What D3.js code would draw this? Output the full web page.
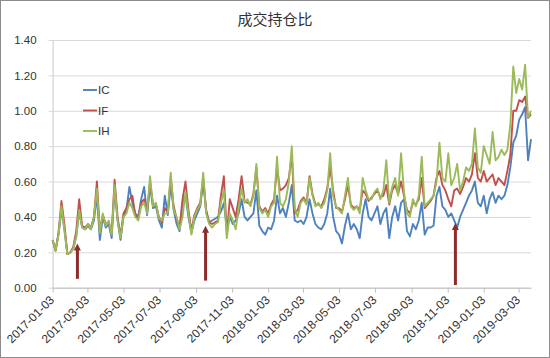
<!DOCTYPE html>
<html><head><meta charset="utf-8">
<script src="https://cdn.jsdelivr.net/npm/d3@7"></script>
<style>body{margin:0;background:#fff}svg{display:block}</style>
</head><body>
<svg id="chart" width="550" height="358"></svg>
<script>
// ---- data ----
const titleText = "成交持仓比";
const startDate = "2017-01-03";   // first sample
const stepDays = 5;               // sampling step of the series below
const endDate = "2019-03-24";     // right end of the date axis
const tickLabels = ["2017-01-03","2017-03-03","2017-05-03","2017-07-03","2017-09-03","2017-11-03",
  "2018-01-03","2018-03-03","2018-05-03","2018-07-03","2018-09-03","2018-11-03","2019-01-03","2019-03-03"];
const yTicks = [0, 0.2, 0.4, 0.6, 0.8, 1.0, 1.2, 1.4];
const seriesNames = ["IC", "IF", "IH"];
const seriesColors = ["#4F81BD", "#C0504D", "#9BBB59"];

const IC = [0.27,0.21,0.30,0.44,0.33,0.19,0.20,0.22,0.29,0.43,0.34,0.33,
  0.35,0.33,0.38,0.52,0.27,0.40,0.34,0.36,0.28,0.56,0.38,0.27,
  0.40,0.44,0.57,0.48,0.42,0.40,0.50,0.57,0.41,0.58,0.45,0.46,
  0.38,0.34,0.52,0.41,0.58,0.44,0.36,0.32,0.48,0.52,0.40,0.31,
  0.38,0.42,0.46,0.60,0.44,0.37,0.38,0.39,0.40,0.43,0.48,0.33,
  0.40,0.36,0.38,0.42,0.50,0.40,0.38,0.40,0.42,0.55,0.35,0.32,
  0.30,0.34,0.33,0.38,0.52,0.42,0.45,0.40,0.48,0.58,0.38,0.37,
  0.38,0.36,0.40,0.50,0.42,0.36,0.34,0.33,0.36,0.42,0.56,0.40,
  0.32,0.30,0.25,0.35,0.42,0.33,0.36,0.33,0.28,0.42,0.50,0.40,
  0.38,0.42,0.46,0.36,0.42,0.45,0.28,0.40,0.46,0.38,0.48,0.50,
  0.32,0.29,0.36,0.33,0.38,0.48,0.30,0.34,0.34,0.35,0.52,0.57,
  0.46,0.44,0.40,0.42,0.38,0.34,0.40,0.44,0.48,0.52,0.55,0.60,
  0.48,0.46,0.52,0.42,0.50,0.54,0.48,0.52,0.50,0.52,0.58,0.68,
  0.82,0.86,0.95,0.98,1.02,0.72,0.84];
const IF = [0.27,0.21,0.31,0.49,0.36,0.19,0.20,0.23,0.32,0.50,0.35,0.34,
  0.36,0.34,0.40,0.60,0.32,0.41,0.36,0.37,0.31,0.61,0.40,0.29,
  0.42,0.45,0.50,0.52,0.41,0.39,0.48,0.50,0.43,0.60,0.47,0.47,
  0.40,0.37,0.45,0.43,0.62,0.46,0.39,0.34,0.50,0.60,0.44,0.32,
  0.41,0.45,0.48,0.62,0.43,0.37,0.36,0.37,0.38,0.52,0.63,0.30,
  0.50,0.45,0.40,0.50,0.63,0.49,0.48,0.47,0.53,0.68,0.46,0.43,
  0.45,0.42,0.47,0.50,0.68,0.55,0.56,0.58,0.62,0.75,0.42,0.44,
  0.49,0.51,0.48,0.63,0.53,0.47,0.47,0.46,0.50,0.56,0.68,0.55,
  0.45,0.45,0.43,0.50,0.58,0.47,0.45,0.46,0.44,0.55,0.53,0.49,
  0.51,0.53,0.55,0.51,0.52,0.58,0.47,0.55,0.58,0.53,0.60,0.52,
  0.44,0.42,0.48,0.47,0.50,0.62,0.45,0.47,0.49,0.52,0.62,0.66,
  0.58,0.55,0.50,0.46,0.55,0.56,0.53,0.57,0.62,0.60,0.64,0.76,
  0.62,0.60,0.66,0.60,0.62,0.64,0.58,0.62,0.60,0.58,0.66,0.75,
  1.00,1.00,1.06,1.05,1.08,0.96,0.98];
const IH = [0.27,0.21,0.30,0.46,0.33,0.19,0.20,0.22,0.29,0.44,0.34,0.33,
  0.36,0.33,0.40,0.56,0.31,0.42,0.35,0.38,0.30,0.58,0.38,0.28,
  0.40,0.42,0.48,0.45,0.40,0.38,0.46,0.48,0.42,0.63,0.46,0.48,
  0.39,0.38,0.42,0.42,0.65,0.44,0.40,0.33,0.40,0.54,0.42,0.30,
  0.40,0.44,0.47,0.65,0.42,0.36,0.34,0.36,0.37,0.48,0.55,0.28,
  0.42,0.38,0.33,0.45,0.56,0.48,0.50,0.46,0.52,0.70,0.45,0.42,
  0.44,0.40,0.46,0.48,0.74,0.48,0.46,0.50,0.60,0.80,0.45,0.40,
  0.48,0.50,0.47,0.62,0.52,0.46,0.48,0.45,0.48,0.55,0.76,0.52,
  0.46,0.44,0.42,0.52,0.62,0.46,0.44,0.46,0.42,0.62,0.55,0.50,
  0.50,0.54,0.56,0.50,0.55,0.72,0.48,0.57,0.62,0.52,0.76,0.54,
  0.42,0.40,0.50,0.46,0.52,0.74,0.46,0.48,0.50,0.52,0.60,0.82,
  0.62,0.60,0.76,0.58,0.62,0.70,0.55,0.60,0.68,0.66,0.70,0.90,
  0.68,0.65,0.80,0.75,0.70,0.88,0.72,0.74,0.78,0.75,0.78,0.92,
  1.25,1.10,1.18,1.12,1.26,0.96,1.00];

// annotation arrows (date, tip value, base value)
const arrowDates = ["2017-02-14", "2017-09-19", "2018-11-16"];
const arrowTips  = [0.25, 0.35, 0.365];
const arrowBases = [0.05, 0.04, 0.015];

// ---- drawing ----
const parse = d3.utcParse("%Y-%m-%d");
const fmt = d3.utcFormat("%Y-%m-%d");
const svg = d3.select("#chart");
const W = 550, H = 358;
const plot = {left: 52.6, right: 531, top: 40, bottom: 287.7};

svg.append("rect").attr("x", 0.5).attr("y", 0.5).attr("width", W - 1).attr("height", H - 1)
  .attr("fill", "#fff").attr("stroke", "#8c8c8c");

const x = d3.scaleUtc().domain([parse(startDate), parse(endDate)]).range([plot.left, plot.right]);
const y = d3.scaleLinear().domain([0, 1.4]).range([plot.bottom, plot.top]);

// title
svg.append("text").attr("x", 275).attr("y", 25).attr("text-anchor", "middle")
  .attr("font-family", "'Noto Sans CJK SC', sans-serif").attr("font-size", 15)
  .attr("fill", "#333").text(titleText);

// y axis with gridlines
const yAxis = svg.append("g").attr("transform", `translate(${plot.left},0)`)
  .call(d3.axisLeft(y).tickValues(yTicks).tickFormat(d3.format(".2f"))
    .tickSizeInner(-(plot.right - plot.left)).tickSizeOuter(0).tickPadding(16));
yAxis.select(".domain").attr("stroke", "#c8c8c8");
yAxis.selectAll(".tick line").attr("stroke", "#d9d9d9").attr("x1", -4);
yAxis.selectAll(".tick text").attr("font-family", "'Liberation Sans', Arial, sans-serif")
  .attr("font-size", 11.5).attr("fill", "#333");

// x axis
const tickDates = tickLabels.map(parse);
const xAxis = svg.append("g").attr("transform", `translate(0,${plot.bottom})`)
  .call(d3.axisBottom(x).tickValues(tickDates).tickFormat(fmt).tickSizeInner(5).tickSizeOuter(0));
xAxis.select(".domain").attr("stroke", "#bfbfbf");
xAxis.selectAll(".tick line").attr("stroke", "#bfbfbf");
xAxis.selectAll(".tick text")
  .attr("font-family", "'Liberation Sans', Arial, sans-serif").attr("font-size", 12).attr("fill", "#333")
  .attr("text-anchor", "end").attr("x", 0).attr("y", 0).attr("dy", "0.35em")
  .attr("transform", "translate(-1,10) rotate(-45)");

// series
const dates = IH.map((_, i) => d3.utcDay.offset(parse(startDate), i * stepDays));
const seriesData = [IC, IF, IH];
const line = d3.line().x((d, i) => x(dates[i])).y(d => y(d));
seriesData.forEach((vals, k) => {
  svg.append("path").datum(vals).attr("d", line).attr("fill", "none")
    .attr("stroke", seriesColors[k]).attr("stroke-width", 1.9).attr("stroke-linejoin", "round");
});

// legend
seriesNames.forEach((name, k) => {
  const ly = 90 + k * 20.5;
  svg.append("line").attr("x1", 83).attr("x2", 97).attr("y1", ly).attr("y2", ly)
    .attr("stroke", seriesColors[k]).attr("stroke-width", 1.9);
  svg.append("text").attr("x", 98).attr("y", ly).attr("dy", "0.35em")
    .attr("font-family", "'Liberation Sans', Arial, sans-serif").attr("font-size", 11.5)
    .attr("fill", "#333").text(name);
});

// arrows
const arrowColor = "#8E2B2B";
arrowDates.forEach((d, k) => {
  const ax = x(parse(d)), tipY = y(arrowTips[k]), baseY = y(arrowBases[k]);
  svg.append("line").attr("x1", ax).attr("x2", ax).attr("y1", baseY).attr("y2", tipY + 6)
    .attr("stroke", arrowColor).attr("stroke-width", 3);
  svg.append("path").attr("d", `M${ax - 3.5},${tipY + 7}L${ax + 3.5},${tipY + 7}L${ax},${tipY}Z`)
    .attr("fill", arrowColor);
});
</script>
</body></html>
